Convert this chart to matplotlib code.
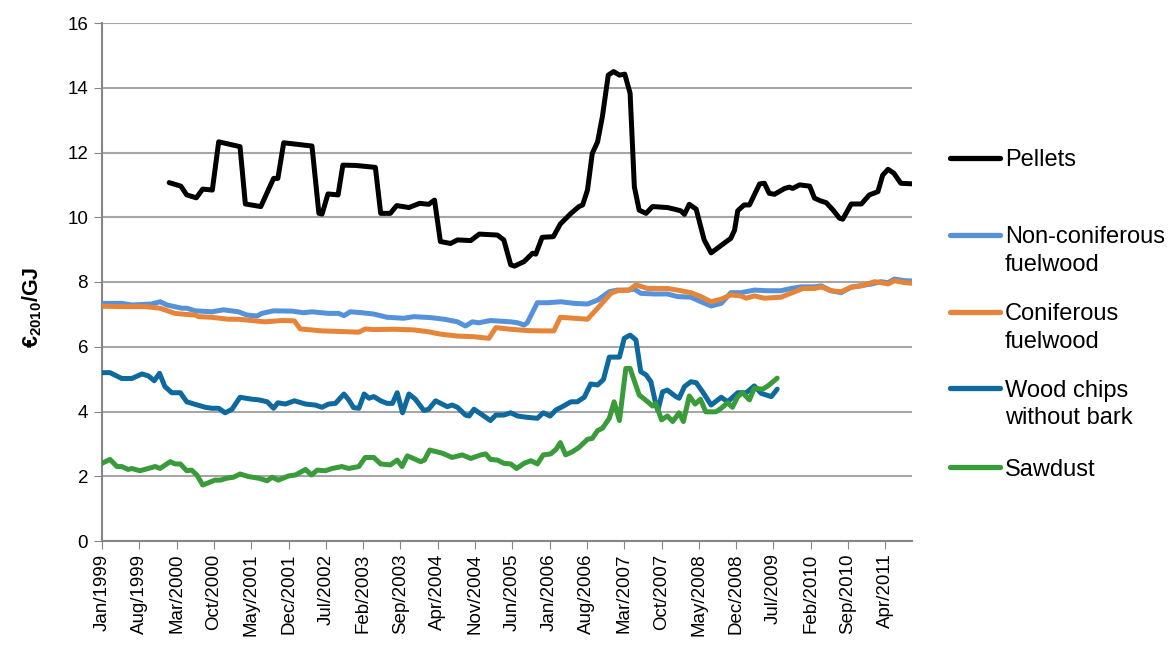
import matplotlib
matplotlib.use("Agg")
import matplotlib.pyplot as plt
from matplotlib.lines import Line2D

plt.rcParams['font.family'] = ['Liberation Sans', 'DejaVu Sans']
plt.rcParams['mathtext.fontset'] = 'custom'
plt.rcParams['mathtext.rm'] = 'Liberation Sans'
plt.rcParams['mathtext.bf'] = 'Liberation Sans:bold'

# months counted from Jan/1999 (0) and values in EUR2010/GJ
pel_m = [12.6, 14.8, 15.9, 17.7, 18.9, 20.7, 21.9, 25.9, 26.9, 29.8, 32.2, 33.0, 34.1, 39.4,
         40.7, 41.3, 42.4, 44.3, 45.2, 47.6, 51.3, 52.3, 54.1, 55.3, 57.6, 59.6, 61.3, 62.4,
         63.5, 65.4, 66.7, 69.2, 70.8, 74.2, 75.4, 76.7, 77.4, 79.2, 80.8, 81.4, 82.6, 84.7,
         86.0, 88.0, 89.5, 90.2, 91.1, 92.0, 93.0, 93.9, 95.0, 96.0, 97.1, 98.1, 99.1, 99.9,
         100.8, 102.1, 103.3, 106.1, 107.4, 108.6, 109.3, 110.2, 111.5, 113.0, 114.3, 118.0,
         118.7, 119.3, 120.5, 121.5, 123.4, 124.3, 125.2, 126.2, 128.1, 129.0, 129.6, 130.9,
         132.8, 133.7, 134.8, 135.9, 137.2, 138.4, 139.0, 140.6, 142.5, 144.0, 145.6, 146.5,
         147.5, 148.6, 149.9, 152.2]
pel_v = [11.07, 10.96, 10.69, 10.60, 10.87, 10.84, 12.33, 12.18, 10.41, 10.33, 11.20, 11.20, 12.30, 12.20,
         10.12, 10.10, 10.72, 10.69, 11.61, 11.60, 11.54, 10.12, 10.12, 10.36, 10.30, 10.43, 10.40, 10.53,
         9.25, 9.19, 9.30, 9.28, 9.48, 9.45, 9.30, 8.53, 8.49, 8.63, 8.89, 8.86, 9.38, 9.40,
         9.79, 10.12, 10.33, 10.38, 10.84, 11.97, 12.33, 13.11, 14.39, 14.50, 14.39, 14.42, 13.83, 10.94,
         10.22, 10.12, 10.33, 10.30, 10.25, 10.20, 10.09, 10.40, 10.25, 9.30, 8.90, 9.35,
         9.60, 10.20, 10.38, 10.38, 11.03, 11.05, 10.74, 10.71, 10.89, 10.93, 10.89, 11.00,
         10.96, 10.59, 10.51, 10.45, 10.22, 9.97, 9.94, 10.41, 10.41, 10.69, 10.79, 11.30,
         11.48, 11.36, 11.05, 11.03]

noncon_m = [0.0, 3.7, 5.6, 9.3, 10.9, 12.2, 15.0, 15.9, 17.5, 20.6, 22.8, 25.6, 27.2, 29.1, 30.0,
            32.2, 35.7, 37.8, 39.4, 42.5, 44.4, 45.4, 46.6, 48.8, 51.0, 53.5, 56.6, 58.5, 61.7,
            64.2, 66.7, 68.2, 69.5, 70.7, 72.9, 76.7, 78.0, 79.2, 79.8, 81.7, 83.6, 86.1, 88.6,
            91.1, 93.0, 95.2, 96.7, 98.6, 99.9, 101.1, 103.6, 106.1, 108.0, 110.5, 112.4, 114.3,
            116.2, 118.0, 119.9, 122.4, 124.9, 127.4, 129.3, 131.2, 133.7, 135.0, 136.8, 138.7,
            140.6, 142.5, 144.4, 146.2, 147.5, 148.7, 150.6, 152.2]
noncon_v = [7.34, 7.34, 7.29, 7.32, 7.39, 7.29, 7.19, 7.19, 7.11, 7.08, 7.14, 7.08, 6.98, 6.95, 7.03,
            7.11, 7.10, 7.05, 7.08, 7.03, 7.03, 6.96, 7.08, 7.05, 7.01, 6.91, 6.88, 6.93, 6.90,
            6.85, 6.77, 6.64, 6.77, 6.74, 6.81, 6.77, 6.74, 6.67, 6.74, 7.36, 7.36, 7.39, 7.34,
            7.32, 7.44, 7.70, 7.75, 7.75, 7.78, 7.65, 7.63, 7.63, 7.55, 7.53, 7.39, 7.26,
            7.34, 7.67, 7.67, 7.75, 7.73, 7.73, 7.80, 7.85, 7.85, 7.88, 7.73, 7.67,
            7.84, 7.89, 7.94, 8.01, 7.98, 8.09, 8.04, 8.03]

con_m = [0.0, 4.3, 8.1, 10.9, 13.7, 15.6, 17.5, 18.1, 20.6, 23.7, 25.6, 28.1, 30.6, 33.8, 36.1,
         37.2, 41.3, 45.0, 48.2, 49.4, 51.0, 54.8, 58.5, 61.0, 63.5, 66.7, 69.8, 72.6, 73.9,
         76.7, 79.8, 82.3, 84.8, 86.0, 88.6, 91.1, 93.0, 95.5, 96.7, 98.9, 100.2, 102.4, 106.1,
         108.0, 110.5, 112.4, 114.3, 116.2, 118.0, 119.9, 120.9, 122.4, 124.3, 127.4, 130.0,
         131.5, 133.7, 135.0, 136.8, 138.7, 140.6, 142.5, 145.0, 146.2, 147.5, 148.7, 150.6, 152.2]
con_v = [7.25, 7.24, 7.24, 7.19, 7.03, 7.00, 6.98, 6.93, 6.91, 6.85, 6.85, 6.81, 6.77, 6.81, 6.80,
         6.55, 6.49, 6.47, 6.45, 6.55, 6.53, 6.54, 6.52, 6.47, 6.39, 6.33, 6.31, 6.26, 6.59,
         6.54, 6.50, 6.49, 6.49, 6.91, 6.88, 6.85, 7.19, 7.65, 7.73, 7.75, 7.91, 7.80, 7.80,
         7.75, 7.67, 7.55, 7.39, 7.47, 7.60, 7.57, 7.50, 7.57, 7.50, 7.53, 7.70,
         7.80, 7.80, 7.85, 7.73, 7.70, 7.84, 7.88, 8.01, 7.98, 7.94, 8.04, 7.98, 7.96]

chips_m = [0.0, 1.5, 3.7, 5.6, 7.5, 8.7, 9.8, 10.8, 11.8, 13.1, 14.7, 15.9, 17.5, 19.4, 20.6,
           21.9, 23.1, 24.4, 25.9, 28.1, 29.4, 31.0, 32.2, 33.0, 34.4, 36.1, 38.2, 40.0, 41.3,
           42.5, 43.8, 45.4, 46.3, 47.2, 48.2, 49.2, 50.1, 51.0, 52.3, 53.5, 54.5, 55.4, 56.4,
           57.6, 58.8, 60.4, 61.3, 62.6, 64.8, 65.7, 66.7, 68.2, 68.9, 69.8, 71.4, 72.9, 73.9,
           75.4, 76.7, 78.0, 79.8, 81.7, 82.8, 84.1, 85.2, 86.4, 88.0, 89.2, 90.5, 91.7, 93.0,
           94.1, 95.2, 97.1, 98.0, 99.1, 100.2, 101.1, 102.1, 103.0, 103.9, 104.3, 105.2, 106.1,
           107.7, 108.3, 109.3, 110.5, 111.5, 112.7, 114.3, 116.2, 117.4, 119.3, 120.9, 122.4,
           123.7, 125.6, 126.7]
chips_v = [5.20, 5.20, 5.02, 5.02, 5.16, 5.10, 4.95, 5.18, 4.77, 4.58, 4.58, 4.30, 4.22, 4.13, 4.10,
           4.10, 3.96, 4.07, 4.44, 4.38, 4.36, 4.30, 4.10, 4.27, 4.23, 4.33, 4.23, 4.20, 4.13,
           4.23, 4.25, 4.54, 4.36, 4.12, 4.10, 4.54, 4.41, 4.46, 4.33, 4.25, 4.25, 4.58, 3.96,
           4.54, 4.38, 4.03, 4.07, 4.33, 4.15, 4.20, 4.13, 3.89, 3.86, 4.07, 3.89, 3.72, 3.89,
           3.89, 3.96, 3.86, 3.82, 3.79, 3.96, 3.86, 4.05, 4.15, 4.30, 4.30, 4.44, 4.85, 4.82,
           4.99, 5.68, 5.68, 6.26, 6.36, 6.21, 5.23, 5.13, 4.92, 4.25, 4.03, 4.61, 4.66,
           4.46, 4.41, 4.77, 4.92, 4.89, 4.61, 4.20, 4.44, 4.30, 4.58, 4.58, 4.79,
           4.56, 4.46, 4.69]

saw_m = [0.0, 1.5, 2.8, 3.7, 4.9, 5.6, 7.1, 10.0, 10.9, 12.8, 13.7, 14.7, 15.9, 16.8, 17.8,
         18.9, 20.0, 21.2, 22.2, 23.4, 24.7, 25.9, 27.5, 29.4, 31.0, 31.9, 33.1, 35.0, 36.3,
         38.2, 39.3, 40.4, 41.9, 43.2, 45.0, 46.3, 48.2, 49.4, 51.0, 52.3, 54.1, 55.4, 56.3,
         57.3, 59.8, 60.5, 61.5, 63.9, 65.7, 67.6, 69.2, 71.1, 72.0, 72.9, 74.2, 75.4, 76.7,
         77.8, 79.2, 80.5, 81.7, 82.8, 84.2, 85.2, 86.0, 87.0, 88.3, 89.5, 91.1, 92.0, 93.0,
         93.9, 95.2, 96.1, 97.1, 98.3, 99.1, 100.8, 102.4, 103.3, 103.9, 105.0, 106.1, 107.1,
         108.3, 109.1, 110.2, 111.3, 112.3, 113.3, 115.2, 116.2, 117.4, 118.3, 119.3, 120.2,
         121.5, 122.4, 124.0, 125.2, 126.7]
saw_v = [2.40, 2.52, 2.30, 2.30, 2.21, 2.24, 2.17, 2.30, 2.24, 2.45, 2.38, 2.38, 2.17, 2.19, 2.04,
         1.73, 1.80, 1.88, 1.88, 1.94, 1.97, 2.07, 1.99, 1.94, 1.86, 1.97, 1.88, 2.01, 2.04,
         2.21, 2.04, 2.19, 2.17, 2.24, 2.30, 2.24, 2.30, 2.58, 2.58, 2.38, 2.35, 2.50, 2.30,
         2.63, 2.45, 2.50, 2.81, 2.71, 2.58, 2.66, 2.55, 2.66, 2.69, 2.52, 2.50, 2.40, 2.38,
         2.24, 2.40, 2.48, 2.38, 2.66, 2.69, 2.83, 3.04, 2.66, 2.76, 2.89, 3.14, 3.17, 3.41,
         3.48, 3.79, 4.30, 3.72, 5.33, 5.33, 4.51, 4.30, 4.17, 4.25, 3.74, 3.86, 3.69,
         3.96, 3.69, 4.48, 4.23, 4.38, 3.99, 3.99, 4.10, 4.27, 4.13, 4.46, 4.58,
         4.36, 4.72, 4.69, 4.82, 5.03]

names = [["Pellets"], ["Non-coniferous", "fuelwood"], ["Coniferous", "fuelwood"],
         ["Wood chips", "without bark"], ["Sawdust"]]
colors = ["#000000", "#5592DA", "#E6843A", "#0E6A9E", "#3A9B3A"]
month_names = ["Jan", "Feb", "Mar", "Apr", "May", "Jun",
               "Jul", "Aug", "Sep", "Oct", "Nov", "Dec"]

W, H = 1169, 657
fig = plt.figure(figsize=(W / 100, H / 100), dpi=100)
ax = fig.add_axes([102 / W, 1 - 541 / H, 810 / W, 518 / H])

series = [(pel_m, pel_v), (noncon_m, noncon_v), (con_m, con_v),
          (chips_m, chips_v), (saw_m, saw_v)]
order = [1, 2, 3, 4, 0]
for i in order:
    m, v = series[i]
    ax.plot(m, v, color=colors[i], lw=3.6, solid_joinstyle='round',
            solid_capstyle='round', zorder=3)

ax.set_xlim(0, 152)
ax.set_ylim(0, 16)
ax.set_yticks(range(0, 17, 2))
ax.tick_params(axis='y', labelsize=13.5, length=6, color='#868686', pad=4)
ticks = list(range(0, 148, 7))
ax.set_xticks(ticks)
ax.set_xticklabels([f"{month_names[t % 12]}/{1999 + t // 12}" for t in ticks],
                   rotation=90, fontsize=13.5)
ax.tick_params(axis='x', length=6, color='#868686', pad=3)
ax.grid(axis='y', color='#A6A6A6', lw=1.5, zorder=0)
for s in ['top', 'right']:
    ax.spines[s].set_visible(False)
for s in ['left', 'bottom']:
    ax.spines[s].set_color('#868686')
    ax.spines[s].set_linewidth(1.5)
ax.set_ylabel(r'€$_{\mathbf{2010}}$/GJ', fontsize=15.5, fontweight='bold')
ax.yaxis.set_label_coords(-0.072, 0.452)

# legend on the right, drawn by hand to follow the uneven spacing
leg_y = [158, 235, 312, 388, 467]
for lines, col, y in zip(names, colors, leg_y):
    yf = 1 - y / H
    fig.add_artist(Line2D([950 / W, 1000 / W], [yf, yf], color=col, lw=3.8,
                          solid_capstyle='round', transform=fig.transFigure))
    for k, txt in enumerate(lines):
        fig.text(1005 / W, 1 - (y + 8.5 + 28 * k) / H, txt, fontsize=17,
                 va='baseline', ha='left')

fig.savefig("out.png", dpi=100)
